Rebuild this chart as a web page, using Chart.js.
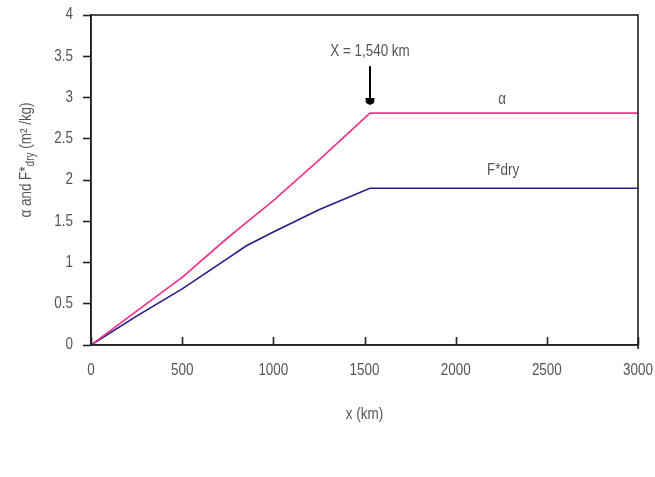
<!DOCTYPE html>
<html>
<head>
<meta charset="utf-8">
<script src="https://cdn.jsdelivr.net/npm/chart.js@4"></script>
<style>
html,body{margin:0;padding:0;background:#fff;}
#wrap{width:655px;height:477px;position:relative;}
</style>
</head>
<body>
<div id="wrap"><canvas id="c" width="655" height="477"></canvas></div>
<script>
const xKm = [0, 250, 500, 750, 850, 1000, 1250, 1530, 3000];
const alphaVals = [0, 0.41, 0.82, 1.30, 1.48, 1.75, 2.24, 2.81, 2.81];
const fdryVals = [0, 0.35, 0.68, 1.05, 1.20, 1.37, 1.64, 1.90, 1.90];
const xTicks = [0, 500, 1000, 1500, 2000, 2500, 3000];
const yTicks = [0, 0.5, 1, 1.5, 2, 2.5, 3, 3.5, 4];
const seriesNames = ['\u03b1', 'F*dry'];

const FAM = '"Liberation Sans", Arial, sans-serif';
const GREY = '#555';
const SX = 0.84;

function pts(xs, ys){ return xs.map((x,i)=>({x:x, y:ys[i]})); }

function narrowText(ctx, txt, x, y, align, size){
  ctx.save();
  ctx.font = size + 'px ' + FAM;
  ctx.textBaseline = 'middle';
  ctx.textAlign = align;
  ctx.translate(x, y);
  ctx.scale(SX, 1);
  ctx.fillText(txt, 0, 0);
  ctx.restore();
}

const decor = {
  id:'decor',
  afterDraw(chart){
    const ctx = chart.ctx, a = chart.chartArea;
    const xs = chart.scales.x, ys = chart.scales.y;
    ctx.save();
    // box
    ctx.strokeStyle = '#222'; ctx.lineWidth = 1.6;
    ctx.strokeRect(a.left, a.top, a.right - a.left, a.bottom - a.top);
    // inward x ticks
    ctx.beginPath();
    xs.ticks.forEach(t=>{
      const px = Math.round(xs.getPixelForValue(t.value)) + 0.5;
      ctx.moveTo(px, a.bottom); ctx.lineTo(px, a.bottom - 8);
    });
    ctx.moveTo(a.right, a.bottom); ctx.lineTo(a.right, a.bottom + 4);
    ctx.stroke();
    // tick labels
    ctx.fillStyle = GREY;
    xs.ticks.forEach(t=>{
      narrowText(ctx, String(t.value), xs.getPixelForValue(t.value), a.bottom + 26, 'center', 16);
    });
    ys.ticks.forEach(t=>{
      narrowText(ctx, String(t.value), a.left - 18, ys.getPixelForValue(t.value), 'right', 16);
    });
    // arrow
    const ax = xs.getPixelForValue(1530);
    const y1 = ys.getPixelForValue(3.38), y2 = ys.getPixelForValue(2.97);
    ctx.strokeStyle = '#000'; ctx.lineWidth = 2;
    ctx.beginPath(); ctx.moveTo(ax, y1); ctx.lineTo(ax, y2); ctx.stroke();
    ctx.fillStyle = '#000';
    ctx.beginPath();
    ctx.moveTo(ax - 4.5, y2 - 2); ctx.lineTo(ax + 4.5, y2 - 2);
    ctx.lineTo(ax + 4, y2 + 3); ctx.lineTo(ax, y2 + 5); ctx.lineTo(ax - 4, y2 + 3);
    ctx.closePath(); ctx.fill();
    // annotation texts
    ctx.fillStyle = GREY;
    narrowText(ctx, 'X = 1,540 km', ax, ys.getPixelForValue(3.56), 'center', 16);
    narrowText(ctx, seriesNames[0], xs.getPixelForValue(2255), ys.getPixelForValue(2.98), 'center', 16);
    narrowText(ctx, seriesNames[1], xs.getPixelForValue(2260), ys.getPixelForValue(2.12), 'center', 16);
    // x title
    narrowText(ctx, 'x (km)', (a.left + a.right)/2, 415, 'center', 16);
    // y title with subscript
    ctx.translate(27, 160);
    ctx.rotate(-Math.PI/2);
    ctx.scale(SX, 1);
    ctx.textAlign = 'left'; ctx.textBaseline = 'middle';
    const p1 = '\u03b1 and F*', p2 = 'dry', p3 = ' (m\u00b2 /kg)';
    ctx.font = '16px ' + FAM;
    const w1 = ctx.measureText(p1).width, w3 = ctx.measureText(p3).width;
    ctx.font = '12px ' + FAM;
    const w2 = ctx.measureText(p2).width;
    let x0 = -(w1 + w2 + w3)/2;
    ctx.font = '16px ' + FAM;
    ctx.fillText(p1, x0, 0);
    ctx.font = '12px ' + FAM;
    ctx.fillText(p2, x0 + w1, 4);
    ctx.font = '16px ' + FAM;
    ctx.fillText(p3, x0 + w1 + w2, 0);
    ctx.restore();
  }
};

new Chart(document.getElementById('c'), {
  type:'scatter',
  data:{
    datasets:[
      {label:seriesNames[0], data:pts(xKm, alphaVals), showLine:true, borderColor:'#f0348e', borderWidth:1.7, pointRadius:0, tension:0},
      {label:seriesNames[1], data:pts(xKm, fdryVals), showLine:true, borderColor:'#2a1c8c', borderWidth:1.7, pointRadius:0, tension:0}
    ]
  },
  options:{
    responsive:false, animation:false,
    layout:{padding:{left:0, right:17, top:15, bottom:0}},
    plugins:{legend:{display:false}, tooltip:{enabled:false}},
    scales:{
      x:{
        type:'linear', min:0, max:3000,
        afterBuildTicks(s){ s.ticks = xTicks.map(v=>({value:v})); },
        afterFit(s){ s.height = 132; s.paddingLeft = 0; s.paddingRight = 0; },
        grid:{display:true, drawOnChartArea:false, drawTicks:false},
        border:{display:true, color:'#222', width:1.6},
        ticks:{display:false, callback:v=>String(v)}
      },
      y:{
        min:0, max:4,
        afterBuildTicks(s){ s.ticks = yTicks.map(v=>({value:v})); },
        afterFit(s){ s.width = 91; s.paddingTop = 0; s.paddingBottom = 0; },
        grid:{display:true, drawOnChartArea:false, drawTicks:true, tickLength:8, color:'#222', tickWidth:1.6},
        border:{display:true, color:'#222', width:1.6},
        ticks:{display:false, callback:v=>String(v)}
      }
    }
  },
  plugins:[decor]
});
</script>
</body>
</html>
